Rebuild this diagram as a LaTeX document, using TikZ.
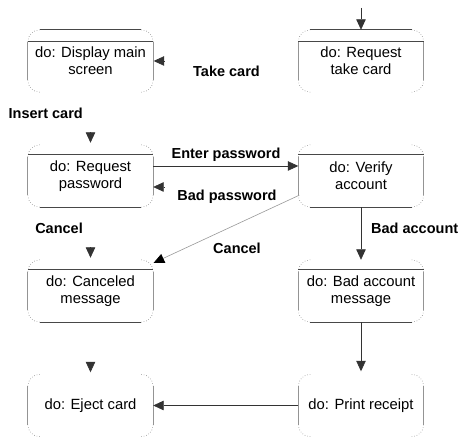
\documentclass[tikz,border=0pt]{standalone}
\usepackage{fontspec}
\newfontfamily\hv{Liberation Sans}
\usetikzlibrary{arrows.meta,calc}
\tikzset{
  state/.style={minimum width=125pt, minimum height=62pt, inner sep=0pt, align=center,
    font=\hv\fontsize{14.8}{17}\selectfont},
  lbl/.style={font=\hv\bfseries\fontsize{14.5}{17}\selectfont, inner sep=0pt},
  sideln/.style={draw=black!42, line width=0.9pt},
  cornerln/.style={draw=black!45, dotted, line width=0.6pt},
  edgeln/.style={draw=black!72, line width=0.8pt},
  arr/.style={draw=black!80, line width=0.7pt, -{Triangle[length=10.5pt,width=9.5pt]}},
  garr/.style={draw=black!40, line width=0.6pt, -{Triangle[length=10.5pt,width=9.5pt,fill=black,color=black]}},
}
\newcommand\stsides[1]{%
  \draw[sideln] ([yshift=-12pt]#1.north west) -- ([yshift=12pt]#1.south west);
  \draw[sideln] ([yshift=-12pt]#1.north east) -- ([yshift=12pt]#1.south east);
  \draw[cornerln] ([yshift=-12pt]#1.north west) arc[start angle=180,end angle=90,radius=12pt];
  \draw[cornerln] ([xshift=-12pt]#1.north east) arc[start angle=90,end angle=0,radius=12pt];
  \draw[cornerln] ([yshift=12pt]#1.south east) arc[start angle=0,end angle=-90,radius=12pt];
  \draw[cornerln] ([xshift=12pt]#1.south west) arc[start angle=270,end angle=180,radius=12pt];
}
\newcommand\sttop[1]{\draw[edgeln] ([xshift=12pt]#1.north west) -- ([xshift=-12pt]#1.north east);}
\newcommand\stcomp[2]{\draw[edgeln] ([yshift=-#2pt]#1.north west) -- ([yshift=-#2pt]#1.north east);}
\newcommand\stbot[1]{\draw[edgeln] ([xshift=12pt]#1.south west) -- ([xshift=-12pt]#1.south east);}
\begin{document}
\begin{tikzpicture}[x=1pt,y=-1pt]
\useasboundingbox[fill=white] (0,0) rectangle (459,438);
% states
\node[state] (dms) at (90.5,61) {do: Display main\\screen};
\node[state] (rtc) at (361,61) {do: Request\\take card};
\node[state] (rp)  at (90.5,176) {do: Request\\password};
\node[state] (va)  at (361,176) {do: Verify\\account};
\node[state] (cm)  at (90.5,291) {do: Canceled\\message};
\node[state] (bam) at (361,291) {do: Bad account\\message};
\node[state] (ec)  at (90.5,405.5) {do: Eject card};
\node[state] (pr)  at (361,405.5) {do: Print receipt};
% frames
\foreach \n in {dms,rtc,rp,va,cm,bam,ec,pr}{\stsides{\n}}
\sttop{dms}\stcomp{dms}{12}
\sttop{rtc}\stcomp{rtc}{12}
\stcomp{rp}{10}\stbot{rp}
\stcomp{va}{10}\stbot{va}
\stcomp{cm}{10}\stbot{cm}
\stcomp{bam}{10}\stbot{bam}
% connectors
\coordinate (start) at (361,8);
\draw[arr] (start) -- (rtc.north);
\draw[arr] ($(dms.east)+(10.5,0)$) -- ($(dms.east)+(0.5,0)$);
\draw[arr] ($(rp.north)+(0,-12.5)$) -- ($(rp.north)+(0,-2)$);
\draw[arr] ($(rp.east)+(0,-10)$) -- ($(va.west)+(0,-10)$);
\draw[arr] ($(rp.east)+(10.5,11)$) -- ($(rp.east)+(0,11)$);
\draw[garr] ($(va.south west)+(1,-12)$) -- ($(cm.north east)+(0.5,3)$);
\draw[arr] (va.south) -- (bam.north);
\draw[arr] ($(cm.north)+(0,-12.5)$) -- ($(cm.north)+(0,-2)$);
\draw[arr] (bam.south) -- ($(pr.north)+(0,-3)$);
\draw[arr] ($(ec.north)+(0,-12.5)$) -- ($(ec.north)+(0,-2)$);
\draw[arr] (pr.west) -- (ec.east);
% labels
\node[lbl] (ltake) at (226.5,71) {Take card};
\node[lbl,anchor=east] (lins) at (83,113) {Insert card};
\node[lbl] (lent) at (226,155) {Enter password};
\node[lbl] (lbad) at (227,197) {Bad password};
\node[lbl,anchor=east] (lcan) at (83,228) {Cancel};
\node[lbl] (lcan2) at (237,248) {Cancel};
\node[lbl,anchor=west] (lbacc) at (371,228) {Bad account};
\end{tikzpicture}
\end{document}
